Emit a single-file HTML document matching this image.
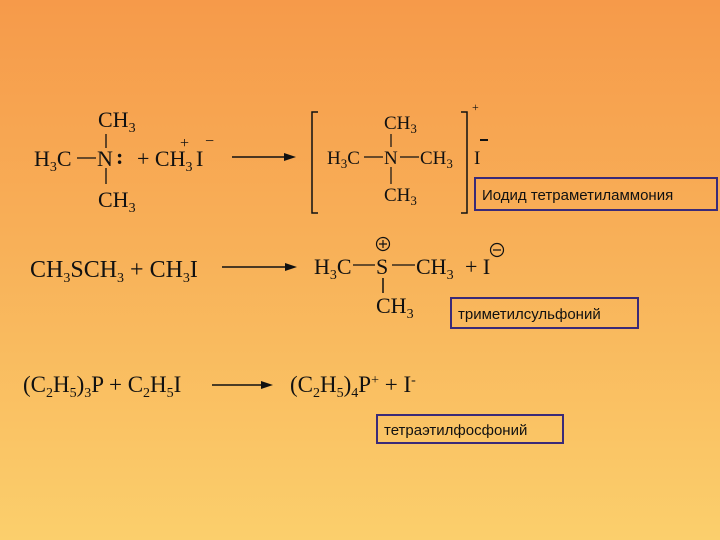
<!DOCTYPE html>
<html><head><meta charset="utf-8"><style>
html,body{margin:0;padding:0}
body{width:720px;height:540px;overflow:hidden;background:linear-gradient(180deg,#f69a4a 0%,#f8b058 45%,#fbcf6c 100%)}
svg{display:block}
.f{font-family:"Liberation Serif",serif;font-size:22px;fill:#111}
.s{font-size:14px}
.l{font-family:"Liberation Sans",sans-serif;font-size:15px;fill:#111}
</style></head><body>
<svg width="720" height="540" viewBox="0 0 720 540">
<g class="f">
<!-- Row 1 -->
<text x="98" y="127">CH<tspan class="s" dy="5">3</tspan></text>
<text x="34" y="166">H<tspan class="s" dy="5">3</tspan><tspan dy="-5">C</tspan></text>
<text x="97" y="166">N</text>
<text x="116" y="164" style="font-weight:bold">:</text>
<text x="137" y="166">+ CH<tspan class="s" dy="5">3</tspan></text>
<text x="196" y="166">I</text>
<text x="180" y="148" style="font-size:16px">+</text>
<text x="205" y="146" style="font-size:16px">−</text>
<text x="98" y="207">CH<tspan class="s" dy="5">3</tspan></text>
<line x1="77" y1="158" x2="96" y2="158" stroke="#111" stroke-width="1.3"/>
<line x1="106" y1="134" x2="106" y2="148" stroke="#111" stroke-width="1.3"/>
<line x1="106" y1="168" x2="106" y2="184" stroke="#111" stroke-width="1.3"/>
<line x1="232" y1="157" x2="288" y2="157" stroke="#111" stroke-width="1.5"/>
<polygon points="296,157 284,153 284,161" fill="#111"/>
<!-- bracket -->
<path d="M318,112 H312 V213 H318" fill="none" stroke="#111" stroke-width="1.5"/>
<path d="M461,112 H467 V213 H461" fill="none" stroke="#111" stroke-width="1.5"/>
<g style="font-size:19px">
<text x="384" y="129">CH<tspan style="font-size:13px" dy="4">3</tspan></text>
<text x="327" y="164">H<tspan style="font-size:13px" dy="4">3</tspan><tspan dy="-4">C</tspan></text>
<text x="384" y="164">N</text>
<text x="420" y="164">CH<tspan style="font-size:13px" dy="4">3</tspan></text>
<text x="384" y="201">CH<tspan style="font-size:13px" dy="4">3</tspan></text>
<text x="474" y="164">I</text>
</g>
<line x1="364" y1="157" x2="383" y2="157" stroke="#111" stroke-width="1.2"/>
<line x1="400" y1="157" x2="419" y2="157" stroke="#111" stroke-width="1.2"/>
<line x1="391" y1="134" x2="391" y2="147" stroke="#111" stroke-width="1.2"/>
<line x1="391" y1="167" x2="391" y2="184" stroke="#111" stroke-width="1.2"/>
<text x="472" y="111" style="font-size:12px">+</text>
<line x1="480" y1="140" x2="488" y2="140" stroke="#111" stroke-width="2"/>
<!-- Row 2 -->
<text x="30" y="277" style="font-size:24px">CH<tspan class="s" dy="5">3</tspan><tspan dy="-5">SCH</tspan><tspan class="s" dy="5">3</tspan><tspan dy="-5"> + CH</tspan><tspan class="s" dy="5">3</tspan><tspan dy="-5">I</tspan></text>
<line x1="222" y1="267" x2="289" y2="267" stroke="#111" stroke-width="1.5"/>
<polygon points="297,267 285,263 285,271" fill="#111"/>
<text x="314" y="274">H<tspan class="s" dy="5">3</tspan><tspan dy="-5">C</tspan></text>
<line x1="353" y1="265" x2="375" y2="265" stroke="#111" stroke-width="1.3"/>
<text x="376" y="274">S</text>
<line x1="392" y1="265" x2="415" y2="265" stroke="#111" stroke-width="1.3"/>
<text x="416" y="274">CH<tspan class="s" dy="5">3</tspan></text>
<text x="465" y="274">+ I</text>
<circle cx="383" cy="244" r="6.5" fill="none" stroke="#111" stroke-width="1.2"/>
<path d="M379,244 H387 M383,240 V248" stroke="#111" stroke-width="1.2"/>
<circle cx="497" cy="250" r="6.5" fill="none" stroke="#111" stroke-width="1.2"/>
<path d="M493,250 H501" stroke="#111" stroke-width="1.2"/>
<line x1="383" y1="278" x2="383" y2="293" stroke="#111" stroke-width="1.5"/>
<text x="376" y="313">CH<tspan class="s" dy="5">3</tspan></text>
<!-- Row 3 -->
<text x="23" y="392" style="font-size:23px">(C<tspan class="s" dy="5">2</tspan><tspan dy="-5">H</tspan><tspan class="s" dy="5">5</tspan><tspan dy="-5">)</tspan><tspan class="s" dy="5">3</tspan><tspan dy="-5">P + C</tspan><tspan class="s" dy="5">2</tspan><tspan dy="-5">H</tspan><tspan class="s" dy="5">5</tspan><tspan dy="-5">I</tspan></text>
<line x1="212" y1="385" x2="265" y2="385" stroke="#111" stroke-width="1.5"/>
<polygon points="273,385 261,381 261,389" fill="#111"/>
<text x="290" y="392" style="font-size:23px">(C<tspan class="s" dy="5">2</tspan><tspan dy="-5">H</tspan><tspan class="s" dy="5">5</tspan><tspan dy="-5">)</tspan><tspan class="s" dy="5">4</tspan><tspan dy="-5">P</tspan><tspan class="s" dy="-8">+</tspan><tspan dy="8"> + I</tspan><tspan class="s" dy="-8">-</tspan></text>
</g>
<!-- labels -->
<rect x="475" y="178" width="242" height="32" fill="none" stroke="#3a2a78" stroke-width="2"/>
<text class="l" x="482" y="200">Иодид тетраметиламмония</text>
<rect x="451" y="298" width="187" height="30" fill="none" stroke="#3a2a78" stroke-width="2"/>
<text class="l" x="458" y="319">триметилсульфоний</text>
<rect x="377" y="415" width="186" height="28" fill="none" stroke="#3a2a78" stroke-width="2"/>
<text class="l" x="384" y="435">тетраэтилфосфоний</text>
</svg>
</body></html>
